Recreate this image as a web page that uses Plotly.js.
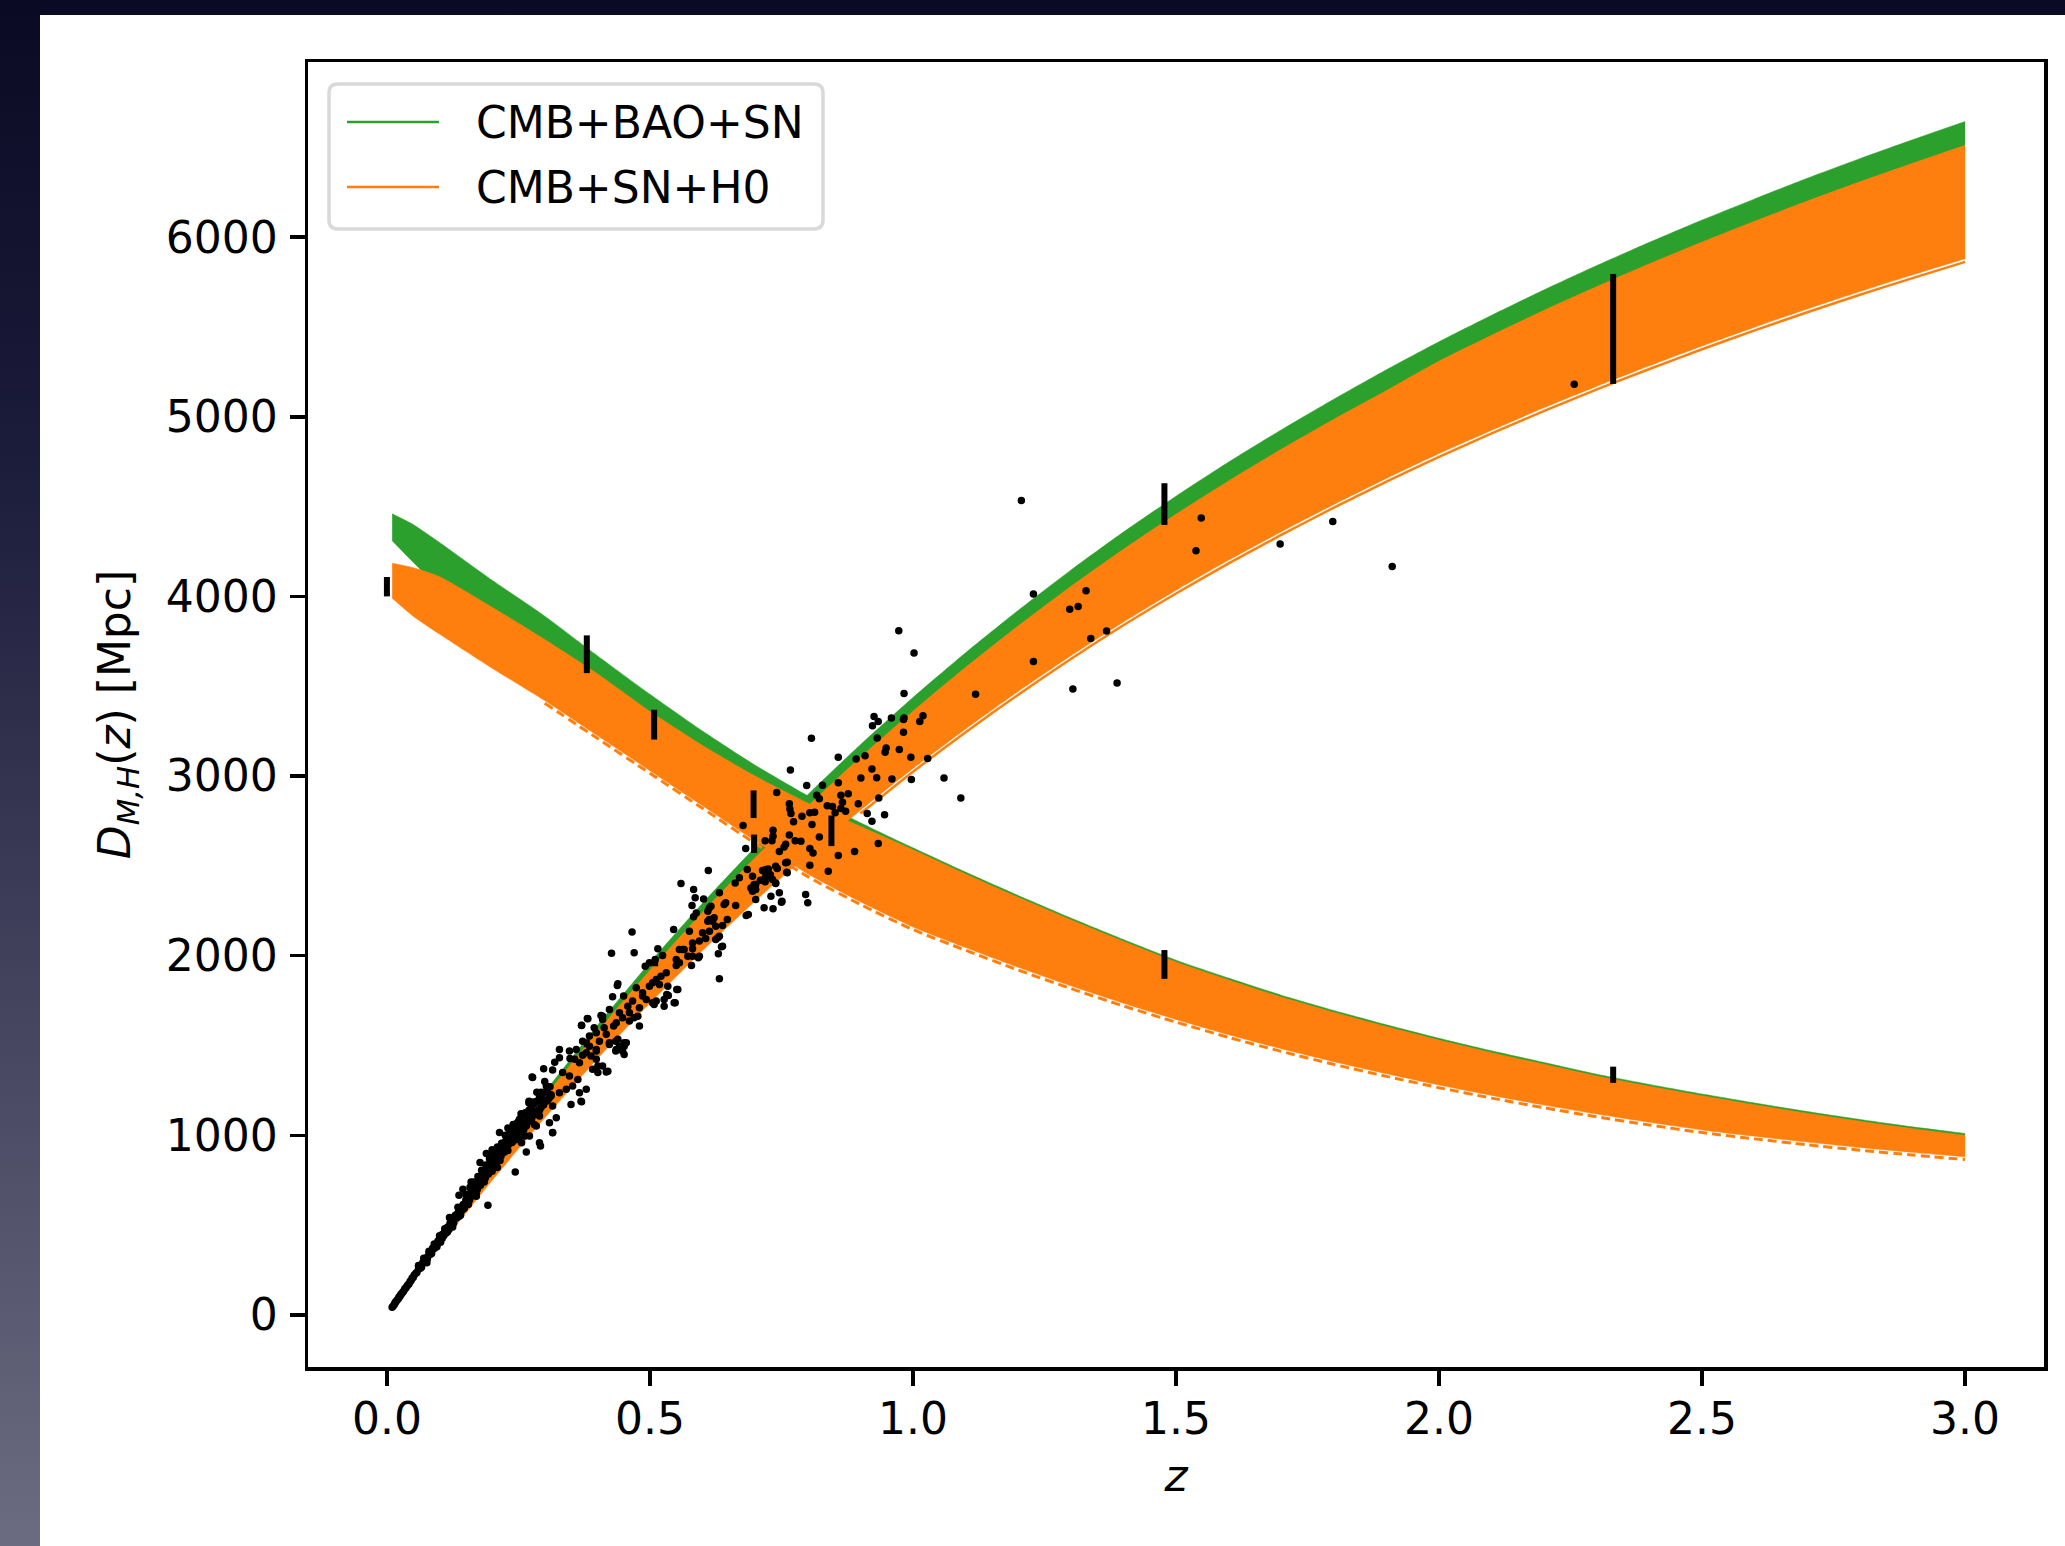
<!DOCTYPE html>
<html>
<head>
<meta charset="utf-8">
<script src="https://cdn.plot.ly/plotly-3.0.1.min.js"></script>
<style>
  html, body { margin:0; padding:0; width:2065px; height:1546px; overflow:hidden; }
  body { background: linear-gradient(to bottom, #0a0a24 0%, #1c1c3b 30%, #44445f 65%, #6b6b81 100%); position:relative; }
  #chart { position:absolute; left:40px; top:15px; width:2025px; height:1531px; background:#fff; }
</style>
</head>
<body>
<div id="chart"></div>
<script>
// ---------- band edges ----------
const zGrid = [0.01,0.05,0.1,0.2,0.3,0.4,0.5,0.6,0.7,0.8,0.9,1.0,1.1,1.2,1.3,1.4,1.5,1.6,1.7,1.8,1.9,2.0,2.1,2.2,2.3,2.4,2.5,2.6,2.7,2.8,2.9,3.0];

// D_M bands
const dmGreenUpper  = [44,219,432,846,1239,1611,1962,2292,2603,2896,3174,3437,3686,3922,4146,4358,4558,4748,4927,5098,5262,5418,5565,5707,5842,5971,6095,6213,6328,6437,6542,6644];
const dmGreenLower  = [42,211,418,818,1200,1560,1900,2220,2520,2803,3073,3327,3568,3797,4014,4219,4413,4596,4771,4936,5094,5257,5400,5537,5668,5794,5913,6028,6139,6245,6347,6446];
const dmOrangeUpper = [43,214,422,827,1212,1576,1919,2242,2546,2832,3104,3361,3605,3836,4055,4262,4458,4643,4819,4986,5146,5310,5454,5593,5725,5852,5973,6089,6201,6308,6411,6511];
const dmOrangeLower = [39,194,382,749,1097,1426,1736,2028,2304,2563,2809,3042,3262,3471,3669,3857,4034,4202,4360,4512,4657,4795,4925,5051,5170,5284,5394,5499,5600,5697,5790,5880];
const zEdge = [0.9,1.0,1.1,1.2,1.3,1.4,1.5,1.6,1.7,1.8,1.9,2.0,2.1,2.2,2.3,2.4,2.5,2.6,2.7,2.8,2.9,3.0];
const dmOrangeEdge  = [2791,3024,3244,3453,3651,3839,4016,4184,4342,4494,4639,4777,4907,5033,5152,5266,5376,5481,5582,5679,5772,5862];

// D_H bands
const dhGreenUpper  = [4460,4400,4300,4090,3890,3670,3455,3250,3060,2890,2740,2600,2465,2335,2210,2090,1975,1875,1780,1695,1615,1540,1470,1405,1340,1283,1230,1180,1132,1088,1047,1010];
const dhGreenLower  = [4310,4190,4050,3890,3710,3520,3310,3120,2950,2800,2670,2540,2405,2275,2150,2030,1915,1815,1720,1635,1555,1480,1410,1345,1280,1223,1170,1120,1072,1028,987,950];
const dhOrangeUpper = [4185,4160,4110,3940,3760,3570,3360,3170,3000,2850,2720,2590,2455,2325,2200,2080,1965,1865,1770,1685,1605,1530,1460,1395,1330,1273,1220,1170,1122,1078,1037,1000];
const dhOrangeLower = [3990,3890,3790,3600,3420,3225,3030,2835,2640,2455,2300,2160,2045,1935,1832,1735,1645,1560,1482,1410,1343,1280,1222,1168,1118,1072,1030,995,962,932,905,880];
const zDash = [0.3,0.4,0.5,0.6,0.7,0.8,0.9,1.0,1.1,1.2,1.3,1.4,1.5,1.6,1.7,1.8,1.9,2.0,2.1,2.2,2.3,2.4,2.5,2.6,2.7,2.8,2.9,3.0];
const dhOrangeDash  = [3405,3210,3015,2820,2625,2440,2285,2145,2030,1920,1817,1720,1630,1545,1467,1395,1328,1265,1207,1153,1103,1057,1015,980,947,917,890,865];

// ---------- BAO / H0 measurements (error bars) ----------
const dmBaoZ   = [0.38,0.51,0.698,0.845,1.478,2.331];
const dmBaoVal = [1512,1967,2623,2695,4514,5489];
const dmBaoErr = [22,26,51,85,116,306];
const dhBaoZ   = [0.0,0.38,0.508,0.697,1.478,2.331];
const dhBaoVal = [4054,3678,3286,2843,1951,1337];
const dhBaoErr = [54,105,83,77,80,45];

// ---------- supernova / distance points ----------
const snZ = [
0.010,0.012,0.014,0.015,0.016,0.018,0.020,0.022,0.023,0.025,0.026,0.028,0.030,0.032,0.034,0.036,0.038,0.040,0.042,0.044,0.046,0.048,0.050,0.052,0.055,0.057,0.060,0.062,0.064,0.066,0.068,0.070,0.072,0.075,0.077,0.080,0.082,0.085,0.087,0.090,0.092,0.095,0.097,0.100,0.102,0.105,0.108,0.110,0.112,0.115,0.118,0.120,0.122,0.125,0.127,0.130,0.132,0.135,0.137,0.140,0.142,0.145,0.147,0.150,0.152,0.155,0.157,0.160,0.162,0.165,0.167,0.170,0.172,0.175,0.177,0.180,0.182,0.185,0.187,0.190,0.192,0.195,0.197,0.200,0.202,0.205,0.207,0.210,0.212,0.215,0.217,0.220,0.222,0.225,0.228,0.230,0.232,0.235,0.238,0.240,0.242,0.245,0.248,0.250,0.252,0.255,0.258,0.260,0.262,0.265,0.268,0.270,0.272,0.275,0.278,0.280,0.283,0.285,0.288,0.290,0.293,0.295,0.298,0.300,0.303,0.305,0.308,0.310,0.312,
0.160,0.200,0.230,0.270,0.170,0.210,0.250,0.280,
0.120,0.135,0.150,0.165,0.180,0.195,0.210,0.225,0.240,0.255,0.270,0.285,0.300,
0.125,0.140,0.155,0.170,0.185,0.200,0.215,0.230,0.245,0.260,0.275,0.290,0.305,
0.060,0.070,0.080,0.090,0.100,0.110,0.065,0.075,0.085,0.095,0.105,0.115,
0.158,0.173,0.188,0.203,0.218,0.233,0.248,0.263,0.278,0.293,
0.163,0.178,0.193,0.208,0.223,0.238,0.253,0.268,0.283,0.298,
0.1445,0.137,0.192,0.189,0.177,0.244,0.214,0.276,0.315,0.370,0.292,0.265,0.119,0.076,
0.348,0.372,0.398,0.401,0.417,0.451,0.451,0.435,0.381,0.370,0.410,0.394,0.435,0.423,0.455,0.477,
0.486,0.505,0.527,0.553,0.546,0.562,0.581,0.613,0.588,0.581,
0.559,0.583,0.586,0.580,0.613,0.610,0.641,0.670,0.662,0.685,0.695,0.701,0.720,0.727,0.739,0.758,0.739,0.761,0.717,0.750,
0.625,0.610,0.632,0.625,0.636,0.545,0.583,0.575,0.594,0.581,0.565,0.556,0.550,
0.466,0.515,0.524,0.470,0.427,0.510,0.499,0.491,0.592,0.579,0.550,0.556,0.572,0.632,
0.531,0.521,0.512,0.505,0.518,0.534,0.499,0.551,0.532,0.535,0.512,0.508,0.527,0.548,
0.474,0.486,0.493,0.467,0.458,0.480,0.461,0.438,0.439,0.429,0.450,
0.423,0.442,0.448,0.436,0.461,0.470,0.480,0.431,0.413,0.370,0.382,0.407,0.410,
0.398,0.417,0.404,0.423,0.439,0.442,0.451,0.448,0.436,
0.385,0.372,0.385,0.379,0.388,0.398,0.360,0.347,0.357,0.366,0.398,0.401,0.420,0.410,0.391,
0.328,0.319,0.328,0.298,0.315,0.277,0.334,0.347,0.363,0.353,0.341,0.328,0.369,0.350,0.366,0.379,
0.303,0.290,0.312,0.315,0.296,0.277,0.322,0.290,0.309,0.315,0.284,0.265,0.290,0.271,0.252,0.258,0.262,0.256,
0.926,0.923,0.934,0.959,0.982,1.013,0.932,0.982,0.949,0.947,0.974,0.996,1.028,0.892,0.909,0.858,0.807,0.922,0.901,0.931,0.960,0.997,1.059,1.091,0.767,0.798,0.828,0.858,0.741,0.817,0.822,0.863,0.877,0.896,0.935,0.913,0.946,0.922,
0.765,0.766,0.768,0.773,0.789,0.804,0.813,0.808,0.822,0.837,0.847,0.852,0.866,0.872,0.863,0.677,0.734,0.734,0.732,0.719,0.765,0.776,0.787,0.758,0.755,0.746,0.682,0.804,0.810,0.858,0.889,0.934,
0.761,0.742,0.760,0.804,0.839,0.725,0.714,0.720,0.729,0.719,0.739,0.733,0.710,0.698,0.692,0.701,0.695,0.602,0.632,0.611,0.683,0.687,0.663,0.644,0.616,0.701,0.730,0.746,0.751,0.734,0.717,0.796,0.800,
0.647,0.638,0.622,0.619,0.613,0.600,0.606,0.629,0.638,0.630,0.594,
1.206,1.548,1.538,1.798,1.698,1.911,2.257,1.229,1.329,1.298,1.314,1.368,1.338,1.229,1.304,1.388,1.119,0.983,1.002,0.973,1.019,0.983
];
const snD = [
42,50,58,63,70,77,84,92,100,104,112,118,126,133,145,150,160,168,172,186,192,205,208,222,232,236,255,258,272,268,290,293,300,318,312,340,336,355,372,370,392,388,412,420,405,448,440,470,455,488,475,510,498,530,512,555,540,568,548,600,580,615,592,640,622,665,640,690,662,700,680,735,700,745,720,775,755,790,762,820,785,840,812,870,830,880,850,900,875,925,885,950,910,965,930,990,950,1005,970,1030,990,1045,1010,1075,1030,1090,1045,1110,1060,1120,1075,1140,1090,1160,1110,1175,1125,1190,1140,1210,1155,1225,1170,1240,1190,1255,1205,1270,1225,
740,920,1040,1190,660,820,980,1060,
540,600,670,740,805,870,935,1000,1060,1120,1180,1240,1300,
490,555,615,675,740,800,860,915,975,1030,1090,1140,1195,
275,315,355,395,440,480,262,302,342,380,425,462,
710,770,835,895,955,1010,1070,1125,1185,1240,
665,725,785,845,905,960,1020,1075,1130,1185,
699,666,610,898,848,796,1015,1324,1015,1187,940,907,542,291,
1428,1446,1478,1385,1352,1496,1450,1469,1650,1611,1663,1599,1524,1515,1515,1663,
1775,1738,1756,1812,1738,2034,2071,2201,2238,1997,
2401,2368,2322,2279,2266,2247,2285,2433,2405,2479,2442,2396,2479,2442,2498,2517,2405,2461,2424,2297,
2164,2192,2108,2090,2049,2146,2216,2136,2081,2038,2034,2034,1979,
2132,2038,2001,2016,2014,1979,1960,1941,1988,1945,1945,1960,1997,1871,
1905,1886,1867,1849,1840,1830,1830,1812,1784,1778,1747,1728,1719,1738,
1821,1793,1756,1747,1719,1710,1682,1834,1843,1771,1775,
1700,1682,1654,1627,1636,1654,1608,1608,1599,1613,1649,1667,1645,
1571,1562,1524,1506,1534,1496,1515,1469,1478,
1552,1524,1496,1460,1441,1423,1478,1469,1423,1404,1469,1349,1357,1385,1367,
1478,1407,1432,1371,1363,1321,1349,1330,1311,1274,1256,1237,1190,1172,1237,1256,
1274,1237,1218,1163,1172,1181,1097,1107,1070,1014,1051,1051,959,996,1089,1051,996,959,
3332,3280,3304,3323,3314,3304,3212,3243,3156,3132,3147,3104,3097,3095,3113,3104,3210,3039,2989,2991,2984,2980,2989,2878,3034,2947,2948,2962,2908,2893,2874,2893,2902,2846,2878,2792,2785,2748,
2846,2817,2792,2745,2776,2795,2798,2730,2661,2835,2831,2795,2854,2804,2819,2724,2698,2665,2639,2639,2672,2639,2637,2620,2605,2580,2596,2596,2572,2557,2580,2624,
2520,2485,2464,2503,2470,2483,2474,2442,2451,2411,2401,2424,2420,2396,2377,2368,2359,2316,2350,2474,2223,2229,2279,2294,2275,2312,2331,2350,2303,2261,2266,2340,2294,
2201,2168,2211,2192,2136,2127,2096,2099,2053,2010,1997,
4534,4436,4254,4417,4291,4166,5181,4013,4031,3929,3944,3807,3766,3638,3484,3518,3455,3460,3685,3809,3336,3323
];

// ---------- styling ----------
const GREEN = '#2ca02c', ORANGE = '#ff7f0e';
const FONT = 'DejaVu Sans';
const SMOOTH = {shape:'spline', smoothing:0.6};

// a band = lower edge line, then upper edge line filled down to it
function bandTraces(z, lo, hi, color, name) {
  return [
    { type:'scatter', mode:'lines', x:z, y:lo, line:Object.assign({color:color, width:0.5}, SMOOTH),
      hoverinfo:'skip', showlegend:false, name:name },
    { type:'scatter', mode:'lines', x:z, y:hi, fill:'tonexty', fillcolor:color,
      line:Object.assign({color:color, width:0.5}, SMOOTH), hoverinfo:'skip', showlegend:false, name:name }
  ];
}

const traces = [].concat(
  bandTraces(zGrid, dmGreenLower, dmGreenUpper, GREEN, 'CMB+BAO+SN'),
  bandTraces(zGrid, dhGreenLower, dhGreenUpper, GREEN, 'CMB+BAO+SN'),
  bandTraces(zGrid, dmOrangeLower, dmOrangeUpper, ORANGE, 'CMB+SN+H0'),
  bandTraces(zGrid, dhOrangeLower, dhOrangeUpper, ORANGE, 'CMB+SN+H0'),
  [
  { type:'scatter', mode:'lines', x:zEdge, y:dmOrangeEdge, line:Object.assign({color:ORANGE, width:2.5}, SMOOTH),
    showlegend:false, hoverinfo:'skip' },
  { type:'scatter', mode:'lines', x:zDash, y:dhOrangeDash, line:Object.assign({color:ORANGE, width:3, dash:'9px,5px'}, SMOOTH),
    showlegend:false, hoverinfo:'skip' },
  { type:'scatter', mode:'markers', x:snZ, y:snD, marker:{size:7.5, color:'#000', line:{width:0}},
    showlegend:false, name:'SN' },
  { type:'scatter', mode:'markers', x:dmBaoZ, y:dmBaoVal,
    error_y:{type:'data', array:dmBaoErr, visible:true, thickness:6, width:0, color:'#000'},
    marker:{size:1, color:'rgba(0,0,0,0)'}, showlegend:false, name:'BAO D_M' },
  { type:'scatter', mode:'markers', x:dhBaoZ, y:dhBaoVal,
    error_y:{type:'data', array:dhBaoErr, visible:true, thickness:6, width:0, color:'#000'},
    marker:{size:1, color:'rgba(0,0,0,0)'}, showlegend:false, name:'BAO D_H' }
  ]
);

// plot area in page pixels: left 308, right 2044, top 62, bottom 1367 (div offset 40,15)
const PL = 308, PR = 2044, PT = 62, PB = 1367;
const px = v => (v - PL) / (PR - PL);
const py = v => (PB - v) / (PB - PT);

// rounded legend box
const bx0 = px(329), bx1 = px(823), by0 = py(229), by1 = py(84);
const rx = 9/(PR-PL), ry = 9/(PB-PT);
const boxPath = `M ${bx0+rx},${by1} L ${bx1-rx},${by1} Q ${bx1},${by1} ${bx1},${by1-ry} L ${bx1},${by0+ry} Q ${bx1},${by0} ${bx1-rx},${by0} L ${bx0+rx},${by0} Q ${bx0},${by0} ${bx0},${by0+ry} L ${bx0},${by1-ry} Q ${bx0},${by1} ${bx0+rx},${by1} Z`;

const legendNames = ['CMB+BAO+SN', 'CMB+SN+H0'];
const legendColors = [GREEN, ORANGE];
const legendRows = [122, 187];

const shapes = [
  { type:'path', xref:'paper', yref:'paper', path:boxPath, fillcolor:'rgba(255,255,255,0.8)',
    line:{color:'#d9d9d9', width:3.5}, layer:'above' }
];
const annotations = [];
legendNames.forEach((n, i) => {
  shapes.push({ type:'line', xref:'paper', yref:'paper', x0:px(347), x1:px(439), y0:py(legendRows[i]), y1:py(legendRows[i]),
                line:{color:legendColors[i], width:2.5}, layer:'above' });
  annotations.push({ xref:'paper', yref:'paper', x:px(474), y:py(legendRows[i]), xanchor:'left', yanchor:'middle',
                     text:n, showarrow:false, font:{family:FONT, size:44, color:'#000'} });
});

const layout = {
  width:2025, height:1531,
  margin:{l:PL-40, r:2065-PR, t:PT-15, b:1546-PB, pad:0},
  paper_bgcolor:'#ffffff', plot_bgcolor:'#ffffff',
  font:{family:FONT, size:44, color:'#000'},
  showlegend:false,
  xaxis:{
    range:[-0.15, 3.15], tickvals:[0,0.5,1,1.5,2,2.5,3], tickformat:'.1f',
    showgrid:false, zeroline:false, showline:true, mirror:true, linecolor:'#000', linewidth:3.5,
    ticks:'outside', ticklen:15, tickwidth:3.5, tickcolor:'#000', ticklabelstandoff:-4,
    tickfont:{family:FONT, size:44, color:'#000'},
    title:{text:'<i>z</i>', font:{family:FONT, size:44, color:'#000'}, standoff:18}
  },
  yaxis:{
    range:[-290, 6975], tickvals:[0,1000,2000,3000,4000,5000,6000],
    showgrid:false, zeroline:false, showline:true, mirror:true, linecolor:'#000', linewidth:3.5,
    ticks:'outside', ticklen:15, tickwidth:3.5, tickcolor:'#000', ticklabelstandoff:3,
    tickfont:{family:FONT, size:44, color:'#000'},
    title:{text:'<i>D</i><sub><i>M,H</i></sub>(<i>z</i>) [Mpc]', font:{family:FONT, size:44, color:'#000'}, standoff:22}
  },
  shapes:shapes,
  annotations:annotations
};

Plotly.newPlot('chart', traces, layout, {staticPlot:true, displayModeBar:false});
</script>
</body>
</html>
